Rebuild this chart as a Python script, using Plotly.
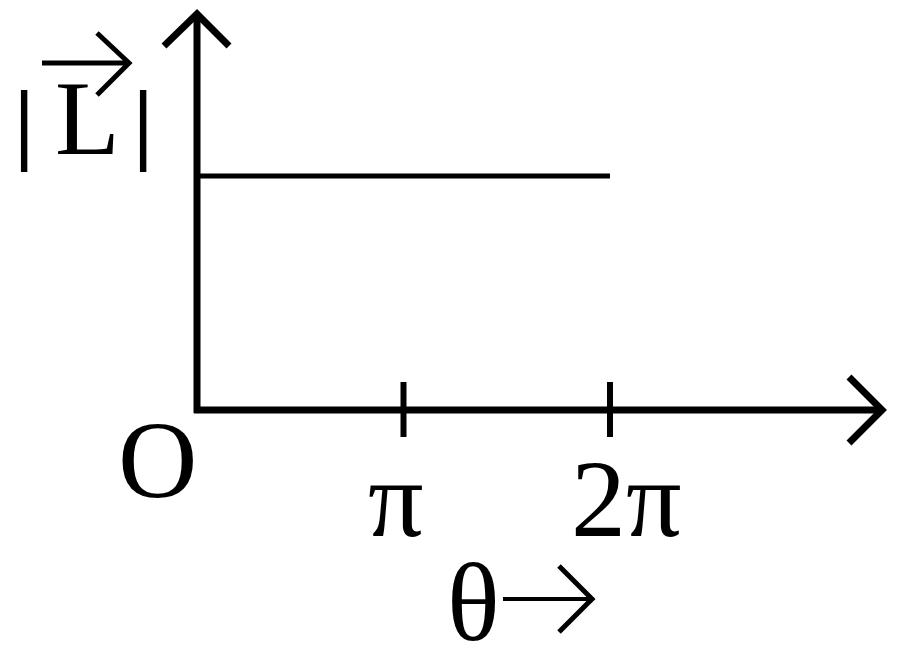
import numpy as np
import plotly.graph_objects as go

# data (|L| is constant, arbitrary unit 1)
theta = [0, 2 * np.pi]
L_mag = [1, 1]
tick_vals = [np.pi, 2 * np.pi]
tick_text = ["π", "2π"]

PAGE_W, PAGE_H = 900, 652
PAD = 8                      # default body margin of the html page
ox, oy = 197, 410            # page pixel position of the origin
kx = 413 / (2 * np.pi)       # pixels per radian
ky = 234                     # pixels per unit of |L|

def px(xp, yp):
    # page pixel position -> data coordinates
    return (xp - ox) / kx, (oy - yp) / ky

FONT = "Liberation Serif"
ink = "black"

fig = go.Figure()
fig.add_trace(go.Scatter(x=theta, y=L_mag, mode="lines",
                         line=dict(color=ink, width=5), hoverinfo="skip"))

shapes = []
def seg(p, q, w=7):
    (x0, y0), (x1, y1) = px(*p), px(*q)
    shapes.append(dict(type="line", x0=x0, y0=y0, x1=x1, y1=y1,
                       line=dict(color=ink, width=w), layer="above"))

def chevron(a, tip, b, w=7):
    pts = [px(*a), px(*tip), px(*b)]
    path = "M{},{} L{},{} L{},{}".format(*[v for p in pts for v in p])
    shapes.append(dict(type="path", path=path,
                       line=dict(color=ink, width=w), layer="above"))

# axes with open arrowheads
seg((ox, oy + 3), (ox, 16))
seg((ox - 3, oy), (880, oy))
chevron((164, 46), (ox, 14), (229, 46))
chevron((849, 377), (882, oy), (849, 443))

# tick marks across the theta axis
for t in tick_vals:
    shapes.append(dict(type="line", x0=t, x1=t,
                       y0=px(0, 382)[1], y1=px(0, 437)[1],
                       line=dict(color=ink, width=6), layer="above"))

# arrow after theta and arrow over L
seg((503, 599), (590, 599), w=4)
chevron((559, 566), (592, 599), (559, 632), w=5)
seg((42, 63), (127, 63), w=5)
chevron((97, 33), (129, 63), (97, 95), w=5)

ann = []
def label(text, xp, yp, size=110):
    x, y = px(xp, yp)
    ann.append(dict(x=x, y=y, text=text, showarrow=False,
                    xanchor="center", yanchor="middle",
                    font=dict(family=FONT, size=size, color=ink)))

label("O", 157, 460)
label_dx = [-8, 16]
for t, s, dx in zip(tick_vals, tick_text, label_dx):
    ann.append(dict(x=t, y=px(0, 499)[1], text=s, showarrow=False,
                    xanchor="center", yanchor="middle", xshift=dx,
                    font=dict(family=FONT, size=110, color=ink)))
label("θ", 473, 603)
label("L", 87, 118, size=106)
label("<b>|</b>", 24, 122, size=92)
label("<b>|</b>", 143, 122, size=92)

fig.update_layout(
    width=PAGE_W - PAD, height=PAGE_H - PAD,
    margin=dict(l=0, r=0, t=0, b=0),
    paper_bgcolor="white", plot_bgcolor="white",
    showlegend=False,
    xaxis=dict(visible=False, range=[px(PAD, 0)[0], px(PAGE_W, 0)[0]], fixedrange=True),
    yaxis=dict(visible=False, range=[px(0, PAGE_H)[1], px(0, PAD)[1]], fixedrange=True),
    shapes=shapes, annotations=ann,
)

fig.write_html("out.html")
